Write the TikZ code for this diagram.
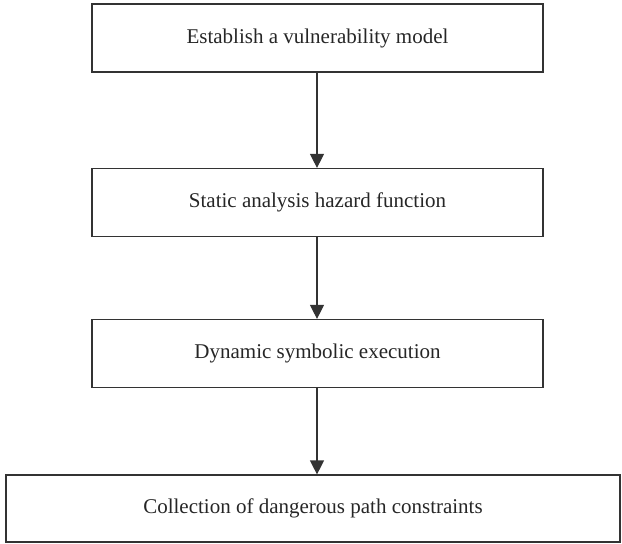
\documentclass[tikz,border=0pt]{standalone}
\usepackage{fontspec}
\setmainfont{Liberation Serif}
\usetikzlibrary{arrows.meta}
\begin{document}
\begin{tikzpicture}[x=1pt,y=1pt,
  stepbox/.style={draw=black!80,line width=1.2pt,inner sep=0pt,minimum height=68pt,font=\fontsize{21}{24}\selectfont,text=black!85},
  conn/.style={draw=black!80,line width=1.2pt,-{Triangle[length=14pt,width=14pt]}}]
\useasboundingbox (0,0) rectangle (622,-544);
\node[stepbox,minimum width=451pt] (a) at (317.5,-38) {Establish a vulnerability model};
\node[stepbox,minimum width=451pt] (b) at (317.5,-202.5) {Static analysis hazard function};
\node[stepbox,minimum width=451pt] (c) at (317.5,-353.5) {Dynamic symbolic execution};
\node[stepbox,minimum width=614pt,minimum height=67pt] (d) at (313,-508.5) {Collection of dangerous path constraints};
\draw[conn] (a.south -| 317,0) -- (b.north -| 317,0);
\draw[conn] (b.south -| 317,0) -- (c.north -| 317,0);
\draw[conn] (c.south -| 317,0) -- (d.north -| 317,0);
\end{tikzpicture}
\end{document}
